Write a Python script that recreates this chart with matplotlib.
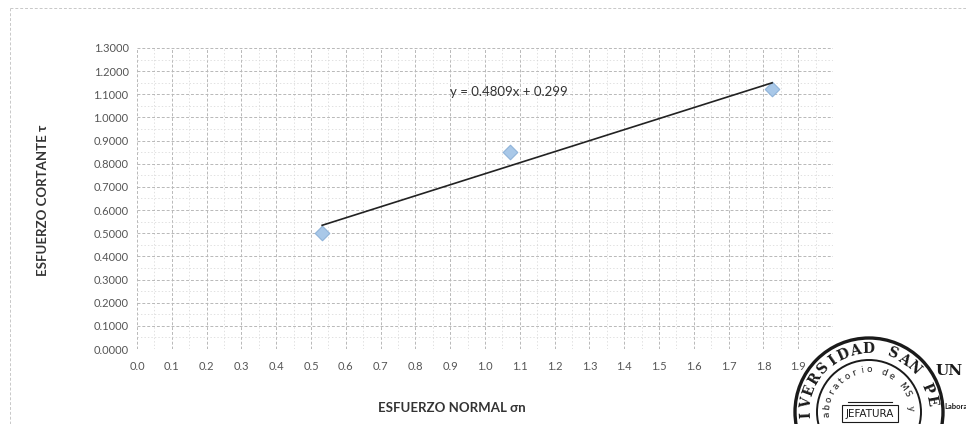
import matplotlib.pyplot as plt
from matplotlib.patches import Circle, Rectangle
import numpy as np

# data
esfuerzo_normal = [0.532, 1.072, 1.825]
esfuerzo_cortante = [0.500, 0.850, 1.125]
ecuacion = "y = 0.4809x + 0.299"
x_ticks = [round(0.1 * i, 1) for i in range(20)]
y_ticks = [round(0.1 * i, 1) for i in range(14)]

plt.rcParams['font.family'] = ['Lato', 'DejaVu Sans']

fig = plt.figure(figsize=(9.66, 4.24), dpi=100)
ax = fig.add_axes([137 / 966, 1 - 349 / 424, 696 / 966, 301 / 424])

ax.set_xlim(0, 2.0)
ax.set_ylim(0, 1.3)

''' dashed grid like the printed excel sheet '''
ax.set_xticks(x_ticks)
ax.set_yticks(y_ticks)
ax.set_xticks(np.arange(0.05, 2.0, 0.1), minor=True)
ax.set_yticks(np.arange(0.05, 1.3, 0.1), minor=True)
ax.grid(which='major', color='#b8b8b8', linestyle=(0, (3, 2)), linewidth=0.7)
ax.grid(which='minor', color='#d4d4d4', linestyle=(0, (2, 3)), linewidth=0.5)
ax.tick_params(which='both', length=0, colors='#555555', labelsize=8)
ax.tick_params(axis='x', pad=9)
ax.tick_params(axis='y', pad=6)
ax.set_xticklabels([f"{v:.1f}" for v in x_ticks])
ax.set_yticklabels([f"{v:.4f}" for v in y_ticks])
for s in ax.spines.values():
    s.set_visible(False)

''' points and linear trendline '''
ax.scatter(esfuerzo_normal, esfuerzo_cortante, marker='D', s=55,
           color='#a9c8e8', edgecolors='#8fb3d9', linewidths=0.8, zorder=3)
m, b = np.polyfit(esfuerzo_normal, esfuerzo_cortante, 1)
xs = np.array([min(esfuerzo_normal), max(esfuerzo_normal)])
ax.plot(xs, m * xs + b, color='#222222', lw=1.2, zorder=4)
ax.text(1.07, 1.11, ecuacion, fontsize=9.5, color='#333333', ha='center', va='center')

fig.text(43 / 966, 1 - 200 / 424, "ESFUERZO CORTANTE τ", rotation=90,
         fontsize=9.5, fontweight='bold', color='#333333', ha='center', va='center')
fig.text(452 / 966, 1 - 408 / 424, "ESFUERZO NORMAL σn", fontsize=9.5,
         fontweight='bold', color='#333333', ha='center', va='center')

''' outer chart border (dashed) '''
fig.add_artist(plt.Line2D([10 / 966, 1], [1 - 8 / 424] * 2, color='#c8c8c8',
                          lw=0.7, ls=(0, (3, 2))))
fig.add_artist(plt.Line2D([10 / 966] * 2, [0, 1 - 8 / 424], color='#c8c8c8',
                          lw=0.7, ls=(0, (3, 2))))

''' stamp in the lower right corner (pixel coords, y down) '''
st = fig.add_axes([780 / 966, 0, 186 / 966, 104 / 424], zorder=5)
st.set_xlim(780, 966)
st.set_ylim(424, 320)
st.axis('off')
cx, cy = 869, 412
st.add_patch(Circle((cx, cy), 74, fc='white', lw=2.4, ec='#1a1a1a'))
st.add_patch(Circle((cx, cy), 52, fill=False, lw=1.4, ec='#1a1a1a'))


def arc_text(txt, r, start, step, size, **kw):
    for i, ch in enumerate(txt):
        th = np.radians(start - i * step)
        st.text(cx + r * np.cos(th), cy - r * np.sin(th), ch, fontsize=size,
                rotation=np.degrees(th) - 90, ha='center', va='center',
                color='#1a1a1a', **kw)


arc_text("IVERSIDAD SAN PE", 63, 183, 11.5, 10, family='DejaVu Serif',
         fontweight='bold')
arc_text("aboratorio de MS y", 42, 184, 10.5, 6.5, family='DejaVu Sans')
st.plot([848, 892], [402, 402], color='#1a1a1a', lw=0.8)
st.add_patch(Rectangle((842, 405), 56, 17, fill=False, lw=0.8, ec='#1a1a1a'))
st.text(870, 414, "JEFATURA", fontsize=7.5, family='DejaVu Sans Condensed',
        ha='center', va='center', color='#1a1a1a')
st.text(936, 371, "UN", fontsize=11, fontweight='bold', family='DejaVu Serif',
        ha='left', va='center', color='#1a1a1a')
st.text(944, 407, "Labora", fontsize=5.5, fontweight='bold', ha='left',
        va='center', color='#1a1a1a')

fig.savefig("out.png", dpi=100, facecolor='white')
